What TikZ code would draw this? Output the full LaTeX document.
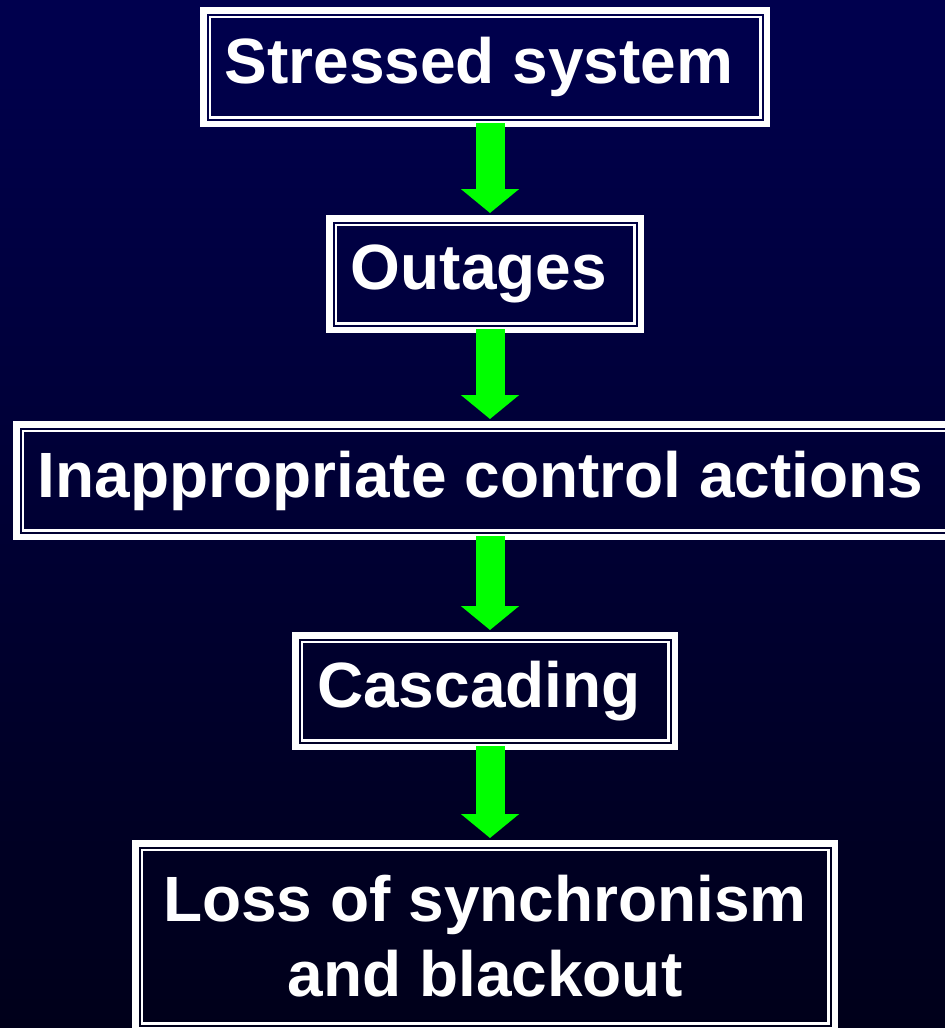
\documentclass[tikz,border=0pt]{standalone}
\usepackage{fontspec}
\setmainfont{Liberation Sans}
\usetikzlibrary{arrows.meta,positioning}

\definecolor{slidetop}{RGB}{0,0,78}
\definecolor{slidenavy}{RGB}{0,0,102}
\definecolor{slidebottom}{RGB}{0,0,26}
\definecolor{arrowgreen}{RGB}{0,255,0}

\begin{document}
\begin{tikzpicture}[x=1pt,y=1pt,
    flow box/.style={draw=white,line width=6.5pt,text=white,inner sep=0pt,
        font=\fontsize{64}{75}\selectfont\bfseries,align=center},
    inner frame/.style={draw=white,line width=2.5pt},
    flow arrow/.style={draw=arrowgreen,line width=29pt,
        -{Triangle[width=57pt,length=24pt]},shorten <=-4pt,shorten >=2pt}
]
    \shade[top color=slidetop,middle color=slidenavy,bottom color=slidebottom]
        (0,0) rectangle (945,-1028);
    \useasboundingbox (0,0) rectangle (945,-1028);

    \node[flow box,minimum width=563.5pt,minimum height=113.5pt] (stressed)
        at (485,-67) {Stressed system\hspace*{12pt}};
    \node[flow box,minimum width=311.5pt,minimum height=111.5pt,
        below=88pt of stressed] (outages) {Outages\hspace*{12pt}};
    \node[flow box,minimum width=937.5pt,minimum height=112.5pt,
        below=88pt of outages] (control) {Inappropriate control actions\hspace*{9pt}};
    \node[flow box,minimum width=379.5pt,minimum height=111.5pt,
        below=92pt of control] (cascading) {Cascading\hspace*{12pt}};
    \node[flow box,minimum width=699.5pt,minimum height=186.5pt,
        below=90pt of cascading] (blackout) {Loss of synchronism\\and blackout};

    % thin inner line of each frame
    \foreach \b in {stressed,outages,control,cascading,blackout} {
        \draw[inner frame] ([shift={(9.75,-9.75)}]\b.north west)
            rectangle ([shift={(-9.75,9.75)}]\b.south east);
    }

    \draw[flow arrow] ([xshift=5pt]stressed.south) -- ([xshift=5pt]outages.north);
    \draw[flow arrow] ([xshift=5pt]outages.south) -- ([xshift=5pt]control.north);
    \draw[flow arrow] ([xshift=5pt]control.south) -- ([xshift=5pt]cascading.north);
    \draw[flow arrow] ([xshift=5pt]cascading.south) -- ([xshift=5pt]blackout.north);
\end{tikzpicture}
\end{document}
